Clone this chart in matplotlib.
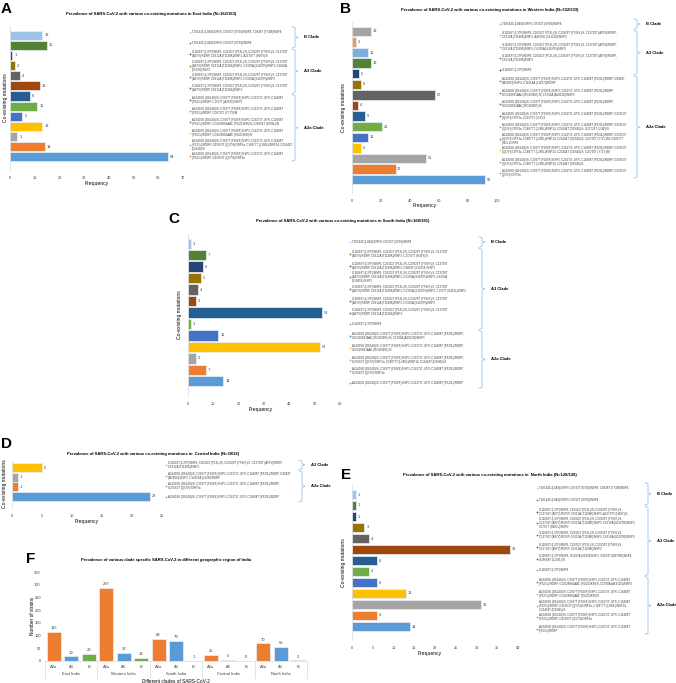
import textwrap
import matplotlib
matplotlib.use("Agg")
import matplotlib.pyplot as plt

plt.rcParams['font.family'] = ['Liberation Sans', 'DejaVu Sans']

# ---------------- colours ----------------
LB = '#9DC3E6'   # light blue
DG = '#548235'   # dark green
NV = '#264478'   # navy
OL = '#997300'   # olive
DGY = '#636363'  # dark gray
RU = '#9E480E'   # rust
DB = '#255E91'   # dark blue
GR = '#70AD47'   # green
BL = '#4472C4'   # blue
YE = '#FFC000'   # yellow
GY = '#A5A5A5'   # gray
OR = '#ED7D31'   # orange
MB = '#5B9BD5'   # main blue
LO = '#F1975A'   # light orange
LB2 = '#7CAFDD'  # light blue 2

B1 = "T28144C (L84S)/ORF8, C8782T (S76S)/NSP4"
A3 = ("G11083T (L37F)/NSP6, C28311T (P13L)/N, C23929T (Y789Y)/S, "
      "C13730T (A97V)/RDRP, C6312A (T1198K)/NSP3")
A2 = "A23403G (D614G)/S, C3037T (F106F)/NSP3, C241T/5'-UTR, C14408T (P323L)/RDRP"
A2Q = A2 + ", G25563T (Q57H)/ORF3a"
A2QX = A2Q + ", C18877T (L280L)/NSP14, C22444T (D294D)/S"
A2R = A2 + ", GGG28881AAC (RG203KR)/N"

# ---------------- data: East India ----------------
east_values = [13, 15, 1, 2, 4, 12, 8, 11, 5, 13, 3, 14, 64]
east_colors = [LB, DG, NV, OL, DGY, RU, DB, GR, BL, YE, GY, OR, MB]
east_labels = [
    B1 + ", C9438T (T749I)/NSP4",
    B1,
    A3 + ", A21707T (H49Y)/S",
    A3 + ", C6310A (S1197R)/NSP3, G1820A (G519S)/NSP2",
    A3 + ", C6310A (S1197R)/NSP3",
    A3,
    A2 + ", C1707T (A470V)/NSP2",
    A2 + ", C26735T (Y71Y)/M",
    A2R + ", C28854T (S194L)/N",
    A2R,
    A2QX,
    A2Q,
]
east_clades = [("B Clade", 2), ("A3 Clade", 4), ("A2a Clade", 6)]

# ---------------- data: Western India ----------------
west_values = [13, 3, 11, 13, 5, 6, 57, 4, 9, 21, 11, 6, 51, 30, 92]
west_colors = [GY, LO, LB2, DG, NV, OL, DGY, RU, DB, GR, BL, YE, GY, OR, MB]
west_labels = [
    B1,
    A3 + ", A4820G (G1121D)/NSP3",
    A3 + ", C6310A (S1197R)/NSP3",
    A3,
    "G11083T (L37F)/NSP6",
    A2 + ", G8083T (M2606I)/NSP4, C18568A (L1607I)/RDRP",
    A2R + ", C5700A (A1812D)/NSP3",
    A2R,
    A2Q + ", C21575T (L5F)/S",
    A2QX + ", G21724T (L54F)/S",
    A2QX + ", C26735T (Y71Y)/M, G28077T (V62L)/ORF8",
    A2QX + ", C26735T (Y71Y)/M",
    A2QX,
    A2Q,
]
west_clades = [("B Clade", 1), ("A3 Clade", 4), ("A2a Clade", 9)]

# ---------------- data: South India ----------------
south_values = [1, 7, 6, 5, 4, 3, 53, 1, 12, 52, 3, 7, 14]
south_colors = [LB, DG, NV, OL, DGY, RU, DB, GR, BL, YE, GY, OR, MB]
south_labels = [
    B1,
    A3 + ", C21707T (H49Y)/S",
    A3 + ", C4809T (S1515F)/NSP3",
    A3 + ", C6310A (S1197R)/NSP3, G3255A (G1085S)/NSP3",
    A3 + ", C6310A (S1197R)/NSP3, C1707T (S481L)/NSP2",
    A3 + ", C6310A (S1197R)/NSP3",
    A3,
    "G11083T (L37F)/NSP6",
    A2R + ", C5700A (A1812D)/NSP3",
    A2R,
    A2QX,
    A2Q,
    A2,
]
south_clades = [("B Clade", 1), ("A3 Clade", 7), ("A2a Clade", 5)]

# ---------------- data: Central India ----------------
central_values = [5, 1, 1, 23]
central_colors = [YE, GY, OR, MB]
central_labels = [
    A3,
    A2 + ", G8083T (M2606I)/NSP3, C14425A (L329I)/RDRP",
    A2Q,
    A2,
]
central_clades = [("A3 Clade", 1), ("A2a Clade", 3)]

# ---------------- data: North India ----------------
north_values = [1, 1, 1, 3, 4, 38, 6, 4, 6, 13, 31, 6, 14]
north_colors = [LB, DG, NV, OL, DGY, RU, DB, GR, BL, YE, GY, OR, MB]
north_labels = [
    B1 + ", C9438T (T749I)/NSP4",
    B1,
    A3 + ", A21707T (H49Y)/S",
    A3 + ", C6310A (S1197R)/NSP3, C1707T (S481L)/NSP2",
    A3 + ", C6310A (S1197R)/NSP3",
    A3,
    "G11083T (L37F)/NSP6, G1397A (V198I)/NSP2, G8653T (M2796I)/NSP4, G28688T (L139L)/N",
    "G11083T (L37F)/NSP6",
    A2R + ", C5700A (A1812D)/NSP3",
    A2R,
    A2QX,
    A2Q,
    A2,
]
north_clades = [("B Clade", 2), ("A3 Clade", 6), ("A2a Clade", 5)]

# ---------------- data: panel F ----------------
regions = ["East India", "Western India", "South India", "Central India", "North India"]
clades = ["A2a", "A3", "B"]
clade_colors = [OR, MB, GR]
counts = {
    "East India": [115, 19, 28],
    "Western India": [287, 32, 13],
    "South India": [88, 79, 1],
    "Central India": [25, 5, 0],
    "North India": [70, 56, 2],
}

# ---------------- figure ----------------
W, H = 676, 683
fig = plt.figure(figsize=(W / 100, H / 100), dpi=100)

ov = fig.add_axes([0, 0, 1, 1])
ov.set_xlim(0, W)
ov.set_ylim(H, 0)
ov.axis('off')


def axes_px(x0, y0, x1, y1):
    return fig.add_axes([x0 / W, 1 - y1 / H, (x1 - x0) / W, (y1 - y0) / H])


def bar_panel(values, colors, labels, cl, xmax, xstep, ax_x, ax_y, bars_y,
              title, title_xy, letter, letter_xy, ylab_x, freq_xy,
              leg_x, leg_y, wrap, br_x):
    n = len(values)
    s = (bars_y[1] - bars_y[0]) / n
    top = -0.5 - (bars_y[0] - ax_y[0]) / s
    bot = n - 0.5 + (ax_y[1] - bars_y[1]) / s
    ax = axes_px(ax_x[0], ax_y[0], ax_x[1], ax_y[1])
    ax.barh(range(n), values, height=0.9, color=colors, edgecolor='#EAF1FA', linewidth=0.5)
    for i, v in enumerate(values):
        ax.text(v + xmax * 0.012, i, str(v), va='center', ha='left', fontsize=2.8, color='#404040')
    ax.set_ylim(bot, top)
    ax.set_xlim(0, xmax)
    ax.set_xticks(range(0, xmax + 1, xstep))
    ax.set_yticks([])
    for sp in ['top', 'right', 'bottom']:
        ax.spines[sp].set_visible(False)
    ax.spines['left'].set_color('#D9D9D9')
    ax.spines['left'].set_linewidth(0.5)
    ax.tick_params(axis='x', length=0, labelsize=2.8, pad=4, labelcolor='#404040')
    ax.patch.set_alpha(0)

    ov.text(title_xy[0], title_xy[1], title, ha='center', va='center', fontsize=3.0, weight='bold')
    ov.text(letter_xy[0], letter_xy[1], letter, ha='left', va='top', fontsize=11, weight='bold')
    ov.text(ylab_x, (ax_y[0] + ax_y[1]) / 2, "Co-existing mutations", rotation=90,
            ha='center', va='center', fontsize=3.6)
    ov.text(freq_xy[0], freq_xy[1], "Frequency", ha='center', va='center', fontsize=3.6)

    m = len(labels)
    ls = (leg_y[1] - leg_y[0]) / max(m - 1, 1)
    ys = [leg_y[0] + i * ls for i in range(m)]
    for i, lab in enumerate(labels):
        ov.plot([leg_x], [ys[i]], marker='s', ms=1.1, color=colors[i], mew=0)
        ov.text(leg_x + 2, ys[i], textwrap.fill(lab, wrap), ha='left', va='center',
                fontsize=2.1, linespacing=1.0, color='#404040')
    k = 0
    for name, cnt in cl:
        y0 = ys[k] - ls * 0.45
        y1 = ys[k + cnt - 1] + ls * 0.45
        ym = (y0 + y1) / 2
        ov.plot([br_x - 3, br_x, br_x, br_x + 3, br_x, br_x, br_x - 3],
                [y0, y0 + 1, ym - 1, ym, ym + 1, y1 - 1, y1],
                color='#9DC3E6', lw=0.6)
        ov.text(br_x + 9, ym, name, ha='left', va='center', fontsize=3.0, weight='bold')
        k += cnt
    return ax


bar_panel(east_values, east_colors, east_labels, east_clades, 70, 10,
          (10, 183), (26, 170), (30, 162),
          "Prevalence of SARS-CoV-2 with various co-existing mutations in East India (N=162/163)",
          (151, 14), "A", (1, 2), 6, (97, 184),
          190, (31.7, 156), 66, 295)

bar_panel(west_values, west_colors, west_labels, west_clades, 100, 20,
          (352, 497), (22, 193), (26, 185),
          "Prevalence of SARS-CoV-2 with various co-existing mutations in Western India (N=332/333)",
          (490, 10), "B", (340, 2), 344, (425, 205),
          500, (24, 173), 84, 637)

bar_panel(south_values, south_colors, south_labels, south_clades, 60, 10,
          (188, 340), (234, 396), (238, 387),
          "Prevalence of SARS-CoV-2 with various co-existing mutations in South India (N=168/181)",
          (343, 221), "C", (168, 212), 180, (261, 409),
          350, (242, 383), 76, 482)

bar_panel(central_values, central_colors, central_labels, central_clades, 25, 5,
          (12, 162), (460, 508), (463, 501),
          "Prevalence of SARS-CoV-2 with various co-existing mutations in  Central India (N=30/32)",
          (153, 454), "D", (1, 437), 5, (87, 521),
          166, (465, 497), 82, 302)

bar_panel(north_values, north_colors, north_labels, north_clades, 40, 5,
          (352, 518), (485, 640), (489, 632),
          "Prevalence of SARS-CoV-2 with various co-existing mutations in  North India (N=128/128)",
          (490, 475), "E", (341, 468), 343, (430, 653),
          537, (488, 629), 64, 648)

# ---------------- panel F ----------------
axf = axes_px(45, 572, 307, 661)
xs, vals, cols, ticklabs = [], [], [], []
for gi, reg in enumerate(regions):
    for ci, c in enumerate(clades):
        xs.append(gi * 3 + ci)
        vals.append(counts[reg][ci])
        cols.append(clade_colors[ci])
        ticklabs.append(c)
axf.bar(xs, vals, width=0.8, color=cols, edgecolor='#EAF1FA', linewidth=0.5)
for x, v in zip(xs, vals):
    axf.text(x, v + 6, str(v), ha='center', va='bottom', fontsize=3.0, color='#404040')
axf.set_xlim(-0.5, len(xs) - 0.5)
axf.set_ylim(0, 350)
axf.set_yticks(range(0, 351, 50))
axf.set_xticks(xs)
axf.set_xticklabels(ticklabs)
axf.tick_params(axis='both', length=0, labelsize=2.9, labelcolor='#404040')
axf.tick_params(axis='x', pad=3)
axf.tick_params(axis='y', pad=3)
for sp in ['top', 'right', 'left']:
    axf.spines[sp].set_visible(False)
axf.spines['bottom'].set_color('#D9D9D9')
axf.spines['bottom'].set_linewidth(0.5)
axf.patch.set_alpha(0)
tr = axf.get_xaxis_transform()
for b in range(len(regions) + 1):
    axf.plot([b * 3 - 0.5] * 2, [0, -0.19], transform=tr, clip_on=False, color='#D9D9D9', lw=0.5)
for gi, reg in enumerate(regions):
    axf.text(gi * 3 + 1, -0.145, reg, transform=tr, ha='center', va='center', fontsize=2.9, color='#404040')
axf.text(7, -0.225, "Different clades of SARS-CoV-2", transform=tr, ha='center', va='center', fontsize=3.4)
ov.text(32, 616, "Number of strains", rotation=90, ha='center', va='center', fontsize=3.4)
ov.text(166, 560, "Prevalence of various clade specific SARS-CoV-2 in different geographic region of India",
        ha='center', va='center', fontsize=3.0, weight='bold')
ov.text(26, 552, "F", ha='left', va='top', fontsize=11, weight='bold')

fig.savefig("out.png", dpi=100)
